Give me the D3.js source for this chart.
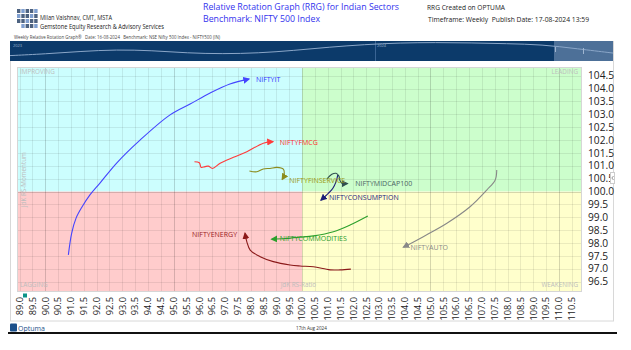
<!DOCTYPE html>
<html><head><meta charset="utf-8">
<script src="https://cdn.jsdelivr.net/npm/d3@7"></script>
<style>
html,body{margin:0;padding:0;background:#fff;}
svg{display:block;font-family:"Open Sans","Noto Sans",sans-serif;}
</style></head>
<body>
<svg id="c" width="631" height="350"></svg>
<script>
// ---------- DATA ----------
const xTicks = d3.range(89, 110.51, 0.5);
const yTicks = d3.range(96.5, 104.51, 0.5);
const quadrants = ["IMPROVING", "LEADING", "LAGGING", "WEAKENING"];

const sectorNames = ["NIFTYIT","NIFTYFMCG","NIFTYFINSERVICE","NIFTYMIDCAP100","NIFTYCONSUMPTION","NIFTYCOMMODITIES","NIFTYENERGY","NIFTYAUTO"];

// RS-Ratio (x) and RS-Momentum (y) tails, oldest -> latest
const itRatio   = [90.90, 91.03, 91.20, 91.43, 91.74, 92.13, 92.78, 93.69, 94.86, 95.64, 96.42, 97.19, 97.93];
const itMom     = [97.54, 98.39, 98.97, 99.40, 99.87, 100.33, 101.11, 102.00, 102.98, 103.40, 103.83, 104.18, 104.37];
const fmcgRatio = [95.81, 96.00, 96.07, 96.22, 96.35, 96.51, 96.81, 97.33, 97.85, 98.49, 98.86];
const fmcgMom   = [101.16, 101.12, 100.94, 100.97, 100.99, 100.90, 101.10, 101.33, 101.55, 101.88, 101.94];
const finRatio  = [97.95, 98.24, 98.49, 98.75, 99.02, 99.27, 99.30, 99.23];
const finMom    = [100.80, 100.77, 100.88, 100.90, 100.94, 100.87, 100.64, 100.48];
const midRatio  = [100.96, 101.16, 101.32, 101.43, 101.48, 101.55, 101.64, 101.76];
const midMom    = [100.48, 100.67, 100.71, 100.61, 100.42, 100.32, 100.31, 100.31];
const conRatio  = [101.39, 101.32, 101.20, 101.02, 100.86, 100.74];
const conMom    = [100.64, 100.38, 100.13, 99.93, 99.78, 99.67];
const comRatio  = [102.56, 101.87, 101.22, 100.44, 99.92, 99.34, 98.82];
const comMom    = [99.05, 98.70, 98.44, 98.28, 98.23, 98.18, 98.15];
const enRatio   = [101.90, 101.48, 101.09, 100.44, 99.92, 99.53, 98.88, 98.37, 97.98, 97.85, 97.78];
const enMom     = [96.99, 96.96, 96.96, 97.08, 97.11, 97.15, 97.28, 97.47, 97.73, 98.05, 98.38];
const autoRatio = [107.58, 107.52, 107.19, 106.54, 105.64, 104.72, 103.95];
const autoMom   = [100.84, 100.45, 100.06, 99.41, 98.77, 98.25, 97.84];

// Navigator strip (benchmark overview), relative level 0..1
const navLevels = [0.2, 0.3, 0.45, 0.55, 0.5, 0.35, 0.3, 0.35, 0.5, 0.7, 0.85, 0.95, 0.97, 0.95, 0.9, 0.85, 0.6, 0.35];
const navYears = ["2023", "2024"];

// ---------- LAYOUT / STYLE ----------
const styles = {
  NIFTYIT:          {line:"#4444ff", text:"#3333ff", dx:7,  dy:0,  anchor:"start"},
  NIFTYFMCG:        {line:"#ff3b3b", text:"#ff2a2a", dx:7,  dy:0.5,anchor:"start"},
  NIFTYFINSERVICE:  {line:"#8c8c1e", text:"#9a9a10", dx:7,  dy:1,  anchor:"start"},
  NIFTYMIDCAP100:   {line:"#2f4f4f", text:"#4a6464", dx:8,  dy:0,  anchor:"start"},
  NIFTYCONSUMPTION: {line:"#1c1c78", text:"#202080", dx:8,  dy:-3, anchor:"start"},
  NIFTYCOMMODITIES: {line:"#2ca02c", text:"#2a9a2a", dx:8,  dy:-1, anchor:"start"},
  NIFTYENERGY:      {line:"#8b1a1a", text:"#9a2222", dx:-8, dy:1,  anchor:"end"},
  NIFTYAUTO:        {line:"#888888", text:"#8a8a8a", dx:7,  dy:0,  anchor:"start"}
};
const series = [
  [itRatio, itMom], [fmcgRatio, fmcgMom], [finRatio, finMom], [midRatio, midMom],
  [conRatio, conMom], [comRatio, comMom], [enRatio, enMom], [autoRatio, autoMom]
].map((s, i) => ({name: sectorNames[i], pts: s[0].map((v, j) => [v, s[1][j]])}));

const svg = d3.select("#c");
const x = d3.scaleLinear().domain([88.9, 110.9]).range([17, 582]);
const y = d3.scaleLinear().domain([96.1, 104.84]).range([292, 67]);
const L = x.range()[0], R = x.range()[1], T = y.range()[1], B = y.range()[0];

// ---------- HEADER ----------
const logo = svg.append("g");
for (let r = 0; r < 4; r++) for (let c = 0; c < 5; c++) {
  if (r === 3 && c === 0) continue;
  const light = (r + c) % 3 === 1;
  logo.append("rect").attr("x", 17 + c * 4.3).attr("y", 9 + r * 5).attr("width", 3.4).attr("height", 4)
    .attr("fill", light ? "#7f9fd0" : "#4d6280");
}
svg.append("text").attr("x", 40).attr("y", 19.5).attr("font-size", 7).attr("fill", "#222")
  .attr("textLength", 72).attr("lengthAdjust", "spacingAndGlyphs").text("Milan Vaishnav, CMT, MSTA");
svg.append("text").attr("x", 40).attr("y", 28.5).attr("font-size", 7).attr("fill", "#222")
  .attr("textLength", 124).attr("lengthAdjust", "spacingAndGlyphs").text("Gemstone Equity Research & Advisory Services");
svg.append("text").attr("x", 203).attr("y", 10.3).attr("font-size", 8.5).attr("fill", "#3333ee")
  .attr("textLength", 196).attr("lengthAdjust", "spacingAndGlyphs").text("Relative Rotation Graph (RRG) for Indian Sectors");
svg.append("text").attr("x", 203).attr("y", 21.9).attr("font-size", 8.5).attr("fill", "#3333ee")
  .attr("textLength", 117).attr("lengthAdjust", "spacingAndGlyphs").text("Benchmark: NIFTY 500 Index");
svg.append("text").attr("x", 427).attr("y", 9.5).attr("font-size", 7).attr("fill", "#222")
  .attr("textLength", 78).attr("lengthAdjust", "spacingAndGlyphs").text("RRG Created on OPTUMA");
svg.append("text").attr("x", 428).attr("y", 21.5).attr("font-size", 7).attr("fill", "#222")
  .attr("textLength", 161).attr("lengthAdjust", "spacingAndGlyphs").text("Timeframe: Weekly\u00A0\u00A0Publish Date: 17-08-2024 13:59");
svg.append("text").attr("x", 14).attr("y", 38.5).attr("font-size", 4.6).attr("fill", "#444")
  .attr("textLength", 206).attr("lengthAdjust", "spacingAndGlyphs")
  .text("Weekly Relative Rotation Graph\u00AE\u00A0\u00A0 Date: 16-08-2024\u00A0\u00A0 Benchmark: NSE Nifty 500 Index - NIFTY500 (IN)");

// ---------- PANEL ----------
svg.append("rect").attr("x", 10.5).attr("y", 41.5).attr("width", 603).attr("height", 279.5)
  .attr("fill", "#fff").attr("stroke", "#d8d8d8");

// navigator strip
svg.append("rect").attr("x", 10).attr("y", 41).attr("width", 544).attr("height", 20).attr("fill", "#0c3a6a");
svg.append("rect").attr("x", 554).attr("y", 41).attr("width", 59).attr("height", 20).attr("fill", "#4d7098");
svg.append("line").attr("x1", 375.5).attr("x2", 375.5).attr("y1", 41).attr("y2", 61).attr("stroke", "#3a6494").attr("stroke-width", 1);
const nx = d3.scaleLinear().domain([0, navLevels.length - 1]).range([10, 613]);
const ny = d3.scaleLinear().domain([0, 1]).range([59, 42]);
svg.append("path").attr("d", d3.line().x((d, i) => nx(i)).y(d => ny(d)).curve(d3.curveBasis)(navLevels))
  .attr("fill", "none").attr("stroke", "#8aa6c8").attr("stroke-width", 1);
svg.append("line").attr("x1", 583.5).attr("x2", 583.5).attr("y1", 48).attr("y2", 54).attr("stroke", "#9fb5d0");
svg.append("line").attr("x1", 555.5).attr("x2", 555.5).attr("y1", 47).attr("y2", 52).attr("stroke", "#9fb5d0");
svg.append("text").attr("x", 13).attr("y", 46.5).attr("font-size", 4).attr("fill", "#9fb5d0").text(navYears[0]);
svg.append("text").attr("x", 377).attr("y", 46.5).attr("font-size", 4).attr("fill", "#9fb5d0").text(navYears[1]);

// ---------- QUADRANTS ----------
const qColors = ["#ccfefe", "#ccfecc", "#ffcccc", "#ffffcc"];
const qRects = [
  [x.domain()[0], 100, y.domain()[1], 100],
  [100, x.domain()[1], y.domain()[1], 100],
  [x.domain()[0], 100, 100, y.domain()[0]],
  [100, x.domain()[1], 100, y.domain()[0]]
];
qRects.forEach((q, i) => {
  svg.append("rect").attr("x", x(q[0])).attr("y", y(q[2])).attr("width", x(q[1]) - x(q[0]))
    .attr("height", y(q[3]) - y(q[2])).attr("fill", qColors[i]);
});

// grid
const grid = svg.append("g");
xTicks.forEach(v => {
  grid.append("line").attr("x1", Math.round(x(v)) + 0.5).attr("x2", Math.round(x(v)) + 0.5).attr("y1", T).attr("y2", B)
    .attr("stroke", v % 5 === 0 ? "rgba(0,0,0,0.16)" : "rgba(0,0,0,0.08)").attr("stroke-width", 1);
});
yTicks.forEach(v => {
  grid.append("line").attr("y1", Math.round(y(v)) + 0.5).attr("y2", Math.round(y(v)) + 0.5).attr("x1", L).attr("x2", R)
    .attr("stroke", v === 100 ? "rgba(0,0,0,0.16)" : "rgba(0,0,0,0.08)").attr("stroke-width", 1);
});
svg.append("rect").attr("x", L + 0.5).attr("y", T + 0.5).attr("width", R - L - 1).attr("height", B - T - 1)
  .attr("fill", "none").attr("stroke", "#d6d6d6");

// quadrant labels
const qlab = [[L + 3, T + 7, "start"], [R - 4, T + 7, "end"], [L + 3, B - 5, "start"], [R - 4, B - 5, "end"]];
quadrants.forEach((q, i) => {
  svg.append("text").attr("x", qlab[i][0]).attr("y", qlab[i][1]).attr("font-size", 6.3)
    .attr("text-anchor", qlab[i][2]).attr("fill", "#bdbdbd").text(q);
});
svg.append("text").attr("x", x(100) + 14).attr("y", B - 5).attr("font-size", 6.3).attr("text-anchor", "end")
  .attr("fill", "#bdbdbd").text("JdK RS-Ratio");
svg.append("text").attr("transform", `translate(${L + 9},${y(100) - 12}) rotate(-90)`).attr("font-size", 6.3)
  .attr("text-anchor", "middle").attr("fill", "#bdbdbd").text("JdK RS-Momentum");

// ---------- AXES ----------
const xa = svg.append("g");
xTicks.forEach(v => {
  xa.append("text").attr("transform", `translate(${x(v) + 3.3},${B + 5}) rotate(-90)`)
    .attr("text-anchor", "end").attr("font-size", 9.2).attr("fill", "#222").text(v.toFixed(1));
});
const ya = svg.append("g");
yTicks.forEach(v => {
  ya.append("text").attr("x", 588).attr("y", y(v) + 3.6).attr("font-size", 10.2).attr("fill", "#222").text(v.toFixed(1));
});
svg.append("rect").attr("x", L + 6).attr("y", B + 1.5).attr("width", 4).attr("height", 4).attr("fill", "#0b9488");
// small collapse button (drawn as shapes)
svg.append("rect").attr("x", 610.5).attr("y", 172.5).attr("width", 4).attr("height", 11).attr("fill", "#fff").attr("stroke", "#ccc");
svg.append("path").attr("d", "M613.5,176 L611.8,178 L613.5,180").attr("fill", "none").attr("stroke", "#777").attr("stroke-width", 0.8);

// ---------- TAILS ----------
const defs = svg.append("defs");
const line = d3.line().x(d => x(d[0])).y(d => y(d[1])).curve(d3.curveCatmullRom.alpha(0.5));
series.forEach((s, i) => {
  const st = styles[s.name];
  defs.append("marker").attr("id", "arr" + i).attr("viewBox", "0 0 10 10").attr("refX", 8).attr("refY", 5)
    .attr("markerWidth", 7).attr("markerHeight", 7).attr("markerUnits", "userSpaceOnUse").attr("orient", "auto")
    .append("path").attr("d", "M0,0L10,5L0,10z").attr("fill", st.line);
  svg.append("path").attr("d", line(s.pts)).attr("fill", "none").attr("stroke", st.line)
    .attr("stroke-width", 1.1).attr("marker-end", `url(#arr${i})`);
});
series.forEach(s => {
  const st = styles[s.name];
  const last = s.pts[s.pts.length - 1];
  svg.append("text").attr("x", x(last[0]) + st.dx).attr("y", y(last[1]) + st.dy + 2.5)
    .attr("font-size", 7).attr("text-anchor", st.anchor).attr("fill", st.text).text(s.name);
});

// ---------- FOOTER ----------
svg.append("rect").attr("x", 10).attr("y", 323.5).attr("width", 7).attr("height", 8).attr("rx", 1).attr("fill", "#1a4f8a");
svg.append("text").attr("x", 18).attr("y", 330.5).attr("font-size", 7).attr("fill", "#1a4f8a").text("Optuma");
svg.append("text").attr("x", 296).attr("y", 330).attr("font-size", 4.6).attr("fill", "#333").text("17th Aug 2024");
svg.append("rect").attr("x", 8).attr("y", 332).attr("width", 609).attr("height", 2).attr("fill", "#111");
</script>
</body></html>
